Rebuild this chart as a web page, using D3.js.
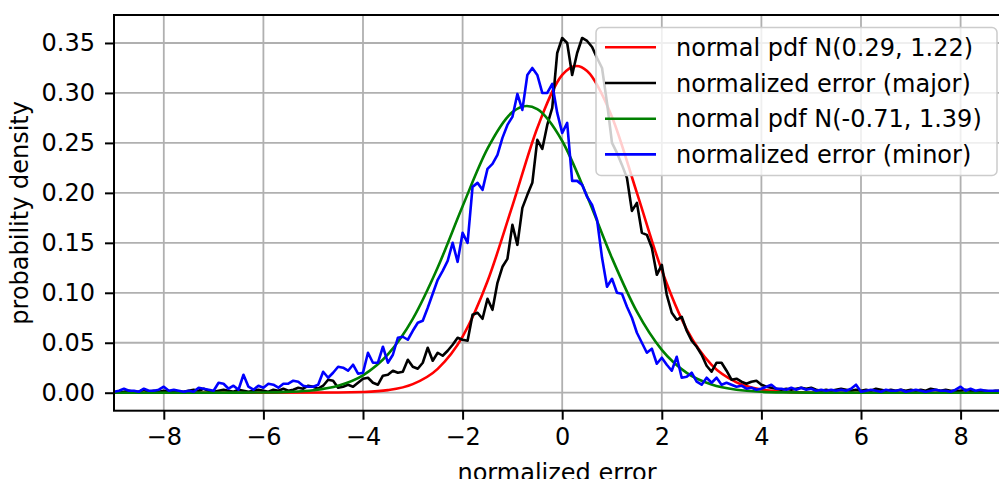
<!DOCTYPE html>
<html>
<head>
<meta charset="utf-8">
<script src="https://d3js.org/d3.v7.min.js"></script>
<style>
body { margin: 0; background: #ffffff; }
svg { display: block; font-family: 'DejaVu Sans', sans-serif; }
</style>
</head>
<body>
<svg id="svg0" width="999" height="479"></svg>
<script>

// histogram bins (start and width of the bins, in normalized error units)
var binStart = -9.0;
var binWidth = 0.1;

// normalized error (major), density per bin
var majorDensity = [
    0.001,0.000,0.001,0.002,0.001,0.001,0.003,0.001,0.002,0.001,
    0.002,0.001,0.002,0.001,0.001,0.002,0.003,0.002,0.004,0.002,
    0.001,0.002,0.003,0.002,0.001,0.003,0.002,0.001,0.002,0.003,
    0.002,0.001,0.003,0.002,0.004,0.002,0.003,0.005,0.004,0.007,
    0.006,0.004,0.007,0.013,0.012,0.005,0.006,0.008,0.006,0.010,
    0.014,0.015,0.010,0.008,0.017,0.018,0.022,0.020,0.021,0.033,
    0.026,0.024,0.030,0.045,0.032,0.040,0.037,0.042,0.048,0.055,
    0.053,0.052,0.078,0.080,0.074,0.094,0.083,0.110,0.126,0.134,
    0.168,0.148,0.185,0.198,0.210,0.253,0.244,0.268,0.285,0.340,
    0.355,0.350,0.318,0.340,0.355,0.352,0.346,0.335,0.325,0.290,
    0.250,0.240,0.228,0.215,0.182,0.190,0.160,0.158,0.145,0.118,
    0.128,0.098,0.080,0.073,0.076,0.062,0.052,0.046,0.038,0.027,
    0.021,0.030,0.030,0.022,0.013,0.014,0.011,0.009,0.011,0.012,
    0.008,0.006,0.005,0.004,0.003,0.004,0.003,0.004,0.005,0.004,
    0.005,0.003,0.002,0.003,0.002,0.003,0.004,0.003,0.002,0.003,
    0.002,0.003,0.002,0.004,0.003,0.002,0.003,0.002,0.003,0.002,
    0.003,0.002,0.003,0.002,0.004,0.003,0.002,0.003,0.002,0.002,
    0.002,0.003,0.002,0.001,0.002,0.002,0.001,0.002,0.002
];

// normalized error (minor), density per bin
var minorDensity = [
    0.001,0.002,0.004,0.002,0.002,0.001,0.004,0.002,0.002,0.003,
    0.006,0.002,0.003,0.002,0.001,0.002,0.001,0.005,0.004,0.003,
    0.002,0.010,0.009,0.004,0.007,0.003,0.018,0.006,0.003,0.007,
    0.005,0.009,0.008,0.005,0.009,0.009,0.012,0.011,0.007,0.006,
    0.006,0.008,0.021,0.015,0.020,0.026,0.025,0.022,0.028,0.019,
    0.020,0.040,0.030,0.030,0.046,0.030,0.038,0.055,0.056,0.053,
    0.062,0.070,0.072,0.085,0.099,0.113,0.122,0.132,0.150,0.131,
    0.160,0.150,0.206,0.210,0.203,0.224,0.229,0.238,0.255,0.268,
    0.276,0.299,0.283,0.318,0.325,0.318,0.300,0.300,0.309,0.280,
    0.260,0.270,0.212,0.212,0.208,0.196,0.188,0.173,0.135,0.106,
    0.114,0.100,0.099,0.086,0.075,0.060,0.050,0.040,0.044,0.029,
    0.035,0.028,0.022,0.036,0.015,0.016,0.020,0.011,0.008,0.015,
    0.010,0.015,0.008,0.010,0.008,0.006,0.007,0.004,0.005,0.003,
    0.004,0.006,0.008,0.004,0.004,0.003,0.005,0.003,0.005,0.003,
    0.004,0.002,0.003,0.002,0.003,0.002,0.003,0.002,0.004,0.008,
    0.001,0.002,0.003,0.002,0.001,0.003,0.002,0.002,0.003,0.001,
    0.002,0.003,0.002,0.001,0.002,0.003,0.002,0.002,0.001,0.003,
    0.006,0.002,0.004,0.002,0.003,0.002,0.002,0.002,0.002
];

// normal pdf N(0.29, 1.22), read at sample points
var majorPdfX = [-9, -4.5, -4, -3.5, -3, -2.5, -2, -1.5, -1, -0.5, 0, 0.29, 0.5, 1, 1.5, 2, 2.5, 3, 3.5, 4, 4.5, 5, 5.5, 8.8];
var majorPdfY = [0, 0.0002, 0.0007, 0.0026, 0.0086, 0.0239, 0.0561, 0.1115, 0.187, 0.265, 0.318, 0.327, 0.322, 0.276, 0.200, 0.1225, 0.0634, 0.0278, 0.0103, 0.0032, 0.0008, 0.0002, 0, 0];

// normal pdf N(-0.71, 1.39), read at sample points
var minorPdfX = [-9, -6.5, -6, -5.5, -5, -4.5, -4, -3.5, -3, -2.5, -2, -1.5, -1, -0.71, -0.5, 0, 0.5, 1, 1.5, 2, 2.5, 3, 3.5, 4, 4.5, 5, 8.8];
var minorPdfY = [0, 0.0001, 0.0002, 0.0008, 0.0025, 0.0070, 0.0174, 0.0383, 0.0739, 0.1253, 0.1866, 0.2442, 0.2808, 0.287, 0.2838, 0.2519, 0.1965, 0.1347, 0.0811, 0.0429, 0.0199, 0.0082, 0.0029, 0.0009, 0.0003, 0.0001, 0];

var xTicks = [-8, -6, -4, -2, 0, 2, 4, 6, 8];
var yTicks = [0.00, 0.05, 0.10, 0.15, 0.20, 0.25, 0.30, 0.35];

var legendLabels = ['normal pdf N(0.29, 1.22)', 'normalized error (major)', 'normal pdf N(-0.71, 1.39)', 'normalized error (minor)'];
var legendColors = ['#ff0000', '#000000', '#008000', '#0000ff'];

var fontSize = '24px';
var lineWidth = 2.6;

var plotLeft = 114;
var plotTop = 15;
var plotBottom = 410.7;

var svg = d3.select('#svg0');

var x = d3.scaleLinear()
    .domain([-9, 8.8])
    .range([plotLeft, plotLeft + 17.8 * 49.8]);

var y = d3.scaleLinear()
    .domain([-0.018, 0.378])
    .range([plotBottom, plotTop]);

var plotRight = x.range()[1];

svg.append('defs').append('clipPath')
    .attr('id', 'plotclip')
    .append('rect')
    .attr('x', plotLeft)
    .attr('y', plotTop)
    .attr('width', plotRight - plotLeft)
    .attr('height', plotBottom - plotTop);

//grid lines
var grid = svg.append('g');
grid.selectAll('.vgrid')
    .data(xTicks)
    .enter()
    .append('line')
    .attr('x1', function(d){ return x(d); })
    .attr('x2', function(d){ return x(d); })
    .attr('y1', plotTop)
    .attr('y2', plotBottom)
    .attr('stroke', '#b0b0b0')
    .attr('stroke-width', 1.8);
grid.selectAll('.hgrid')
    .data(yTicks)
    .enter()
    .append('line')
    .attr('x1', plotLeft)
    .attr('x2', plotRight)
    .attr('y1', function(d){ return y(d); })
    .attr('y2', function(d){ return y(d); })
    .attr('stroke', '#b0b0b0')
    .attr('stroke-width', 1.8);

//lines
var histLine = d3.line()
    .x(function(d, i){ return x(binStart + i * binWidth); })
    .y(function(d){ return y(d); });

var pdfLine = d3.line()
    .x(function(d){ return x(d[0]); })
    .y(function(d){ return y(d[1]); })
    .curve(d3.curveMonotoneX);

var lines = svg.append('g').attr('clip-path', 'url(#plotclip)');

lines.append('path')
    .attr('d', pdfLine(d3.zip(majorPdfX, majorPdfY)))
    .attr('fill', 'none')
    .attr('stroke', legendColors[0])
    .attr('stroke-width', lineWidth);

lines.append('path')
    .attr('d', histLine(majorDensity))
    .attr('fill', 'none')
    .attr('stroke', legendColors[1])
    .attr('stroke-width', lineWidth)
    .attr('stroke-linejoin', 'round');

lines.append('path')
    .attr('d', pdfLine(d3.zip(minorPdfX, minorPdfY)))
    .attr('fill', 'none')
    .attr('stroke', legendColors[2])
    .attr('stroke-width', lineWidth);

lines.append('path')
    .attr('d', histLine(minorDensity))
    .attr('fill', 'none')
    .attr('stroke', legendColors[3])
    .attr('stroke-width', lineWidth)
    .attr('stroke-linejoin', 'round');

//axes
var xAxis = svg.append('g')
    .attr('transform', 'translate(0,' + plotBottom + ')')
    .call(d3.axisBottom(x).tickValues(xTicks).tickSize(9).tickPadding(8).tickFormat(d3.format('d')));

var yAxis = svg.append('g')
    .attr('transform', 'translate(' + plotLeft + ',0)')
    .call(d3.axisLeft(y).tickValues(yTicks).tickSize(9).tickPadding(10).tickFormat(d3.format('.2f')));

[xAxis, yAxis].forEach(function(a){
    a.select('.domain').remove();
    a.selectAll('.tick line').attr('stroke', '#000').attr('stroke-width', 2);
    a.selectAll('.tick text')
        .attr('fill', '#000')
        .style('font-size', fontSize)
        .style('font-family', "'DejaVu Sans', sans-serif");
});

//spines
svg.append('rect')
    .attr('x', plotLeft)
    .attr('y', plotTop)
    .attr('width', plotRight - plotLeft)
    .attr('height', plotBottom - plotTop)
    .attr('fill', 'none')
    .attr('stroke', '#000')
    .attr('stroke-width', 2);

//axis labels
svg.append('text')
    .attr('x', 557)
    .attr('y', 481)
    .attr('text-anchor', 'middle')
    .style('font-size', fontSize)
    .text('normalized error');

svg.append('text')
    .attr('transform', 'translate(28,' + ((plotTop + plotBottom) / 2) + ') rotate(-90)')
    .attr('text-anchor', 'middle')
    .style('font-size', fontSize)
    .text('probability density');

//legend
var legend = svg.append('g');
legend.append('rect')
    .attr('x', 596)
    .attr('y', 27.5)
    .attr('width', 401)
    .attr('height', 148)
    .attr('rx', 5)
    .attr('fill', '#ffffff')
    .attr('fill-opacity', 0.8)
    .attr('stroke', '#cccccc')
    .attr('stroke-width', 1.5);

var items = legend.selectAll('.item')
    .data(legendLabels)
    .enter()
    .append('g')
    .attr('transform', function(d, i){ return 'translate(0,' + (47.3 + i * 35.7) + ')'; });

items.append('line')
    .attr('x1', 605)
    .attr('x2', 656)
    .attr('stroke', function(d, i){ return legendColors[i]; })
    .attr('stroke-width', lineWidth);

items.append('text')
    .attr('x', 676)
    .attr('dy', '0.36em')
    .style('font-size', fontSize)
    .text(function(d){ return d; });

</script>
</body>
</html>
